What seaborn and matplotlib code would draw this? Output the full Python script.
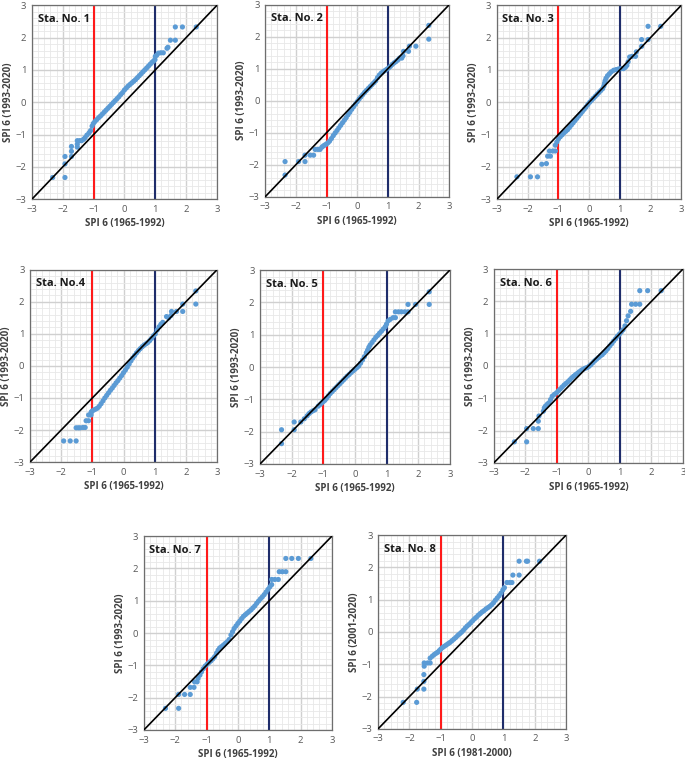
import numpy as np
import pandas as pd
import seaborn as sns
import matplotlib.pyplot as plt
from matplotlib.ticker import MultipleLocator

# ---- data (SPI 6 quantile pairs) ----
sta1_x = [-2.33, -1.93, -1.93, -1.93, -1.72, -1.72, -1.72, -1.53, -1.53, -1.53, -1.45, -1.39, -1.33, -1.28,
          -1.22, -1.15, -1.10,
          -1.05, -1.01, -0.96, -0.90, -0.84, -0.78, -0.72, -0.66, -0.60, -0.54, -0.48, -0.42, -0.36, -0.30,
          -0.24, -0.18, -0.12, -0.06, 0.00, 0.06, 0.12, 0.18, 0.24, 0.30, 0.36, 0.42, 0.48, 0.54, 0.60, 0.66,
          0.72, 0.78, 0.84, 0.90, 0.95, 0.99,
          1.00, 1.05, 1.10, 1.18, 1.26, 1.38, 1.41, 1.49, 1.65, 1.65, 1.88, 2.33]
sta1_y = [-2.33, -2.33, -1.91, -1.68, -1.68, -1.52, -1.37, -1.39, -1.30, -1.19, -1.19, -1.19, -1.15, -1.10,
          -1.02, -0.95, -0.88,
          -0.74, -0.66, -0.60, -0.54, -0.48, -0.43, -0.37, -0.31, -0.25, -0.19, -0.13, -0.07, -0.01, 0.05,
          0.11, 0.17, 0.24, 0.30, 0.38, 0.44, 0.50, 0.55, 0.60, 0.65, 0.70, 0.76, 0.82, 0.88, 0.94, 1.00,
          1.06, 1.12, 1.18, 1.24, 1.28, 1.32,
          1.42, 1.46, 1.52, 1.53, 1.53, 1.67, 1.70, 1.92, 1.92, 2.33, 2.33, 2.33]

sta2_x = [-2.35, -2.35, -1.91, -1.70, -1.70, -1.53, -1.42, -1.37, -1.28, -1.21, -1.15,
          -1.10, -1.05, -1.00, -0.95, -0.90, -0.84, -0.78, -0.72, -0.66, -0.60, -0.54, -0.48, -0.42, -0.36,
          -0.30, -0.24, -0.18, -0.12, -0.06, 0.00, 0.06, 0.12, 0.18, 0.24, 0.30, 0.36, 0.42, 0.48, 0.54,
          0.60, 0.66, 0.72, 0.78, 0.84, 0.90, 0.96, 1.02, 1.08, 1.14, 1.20, 1.26, 1.32, 1.38,
          1.45, 1.49, 1.51, 1.67, 1.70, 1.91, 2.33, 2.33]
sta2_y = [-2.32, -1.90, -1.90, -1.70, -1.90, -1.70, -1.70, -1.52, -1.52, -1.52, -1.45,
          -1.41, -1.38, -1.35, -1.31, -1.26, -1.18, -1.09, -1.01, -0.93, -0.85, -0.77, -0.69, -0.61, -0.53,
          -0.44, -0.36, -0.27, -0.19, -0.11, -0.03, 0.05, 0.12, 0.19, 0.26, 0.32, 0.38, 0.44, 0.50, 0.56,
          0.62, 0.72, 0.80, 0.86, 0.90, 0.94, 0.98, 1.02, 1.07, 1.13, 1.18, 1.22, 1.27, 1.33,
          1.33, 1.40, 1.54, 1.54, 1.70, 1.70, 1.92, 2.35]

sta3_x = [-2.35, -1.91, -1.68, -1.54, -1.39, -1.35, -1.26, -1.29, -1.18, -1.10,
          -1.10, -1.05, -1.00, -0.94, -0.88, -0.82, -0.76, -0.70, -0.64, -0.58, -0.52, -0.46, -0.40, -0.34,
          -0.28, -0.22, -0.16, -0.10, -0.04, 0.02, 0.08, 0.14, 0.20, 0.26, 0.32, 0.38, 0.44, 0.48, 0.50,
          0.52, 0.55, 0.60, 0.66, 0.72, 0.80, 0.88, 0.96, 1.04, 1.12, 1.18, 1.23, 1.27,
          1.32, 1.40, 1.51, 1.54, 1.71, 1.71, 1.92, 1.92, 2.33]
sta3_y = [-2.31, -2.31, -2.31, -1.92, -1.90, -1.67, -1.67, -1.51, -1.51, -1.51,
          -1.33, -1.23, -1.14, -1.07, -1.01, -0.95, -0.90, -0.85, -0.78, -0.71, -0.64, -0.57, -0.50, -0.43,
          -0.36, -0.29, -0.22, -0.15, -0.07, 0.00, 0.06, 0.12, 0.18, 0.24, 0.30, 0.36, 0.42, 0.50, 0.58,
          0.66, 0.74, 0.82, 0.88, 0.94, 0.99, 1.01, 1.03, 1.04, 1.04, 1.08, 1.14, 1.25,
          1.40, 1.42, 1.42, 1.56, 1.73, 1.94, 1.94, 2.35, 2.35]

sta4_x = [-1.92, -1.71, -1.52, -1.52, -1.45, -1.39, -1.30, -1.23, -1.20, -1.12, -1.12, -1.04, -1.04,
          -1.02, -0.96, -0.90, -0.84, -0.78, -0.72, -0.66, -0.60, -0.54, -0.48, -0.42, -0.36, -0.30, -0.24,
          -0.18, -0.12, -0.06, 0.00, 0.06, 0.12, 0.18, 0.24, 0.30, 0.36, 0.42, 0.48, 0.54, 0.60, 0.66,
          0.72, 0.78, 0.84, 0.90, 0.96, 1.02, 1.08, 1.14, 1.20, 1.26,
          1.38, 1.45, 1.52, 1.54, 1.70, 1.90, 1.90, 2.32, 2.32]
sta4_y = [-2.34, -2.34, -2.34, -1.93, -1.93, -1.93, -1.92, -1.92, -1.71, -1.71, -1.53, -1.53, -1.45,
          -1.42, -1.38, -1.35, -1.32, -1.26, -1.18, -1.09, -1.00, -0.92, -0.84, -0.76, -0.69, -0.61, -0.53,
          -0.46, -0.38, -0.30, -0.21, -0.13, -0.04, 0.06, 0.16, 0.25, 0.33, 0.41, 0.48, 0.54, 0.60, 0.65,
          0.69, 0.73, 0.79, 0.86, 0.94, 1.00, 1.12, 1.22, 1.30, 1.36,
          1.54, 1.50, 1.57, 1.70, 1.70, 1.70, 1.93, 1.93, 2.34]

sta5_x = [-2.32, -2.32, -1.92, -1.92, -1.71, -1.60, -1.51, -1.45, -1.39, -1.32, -1.26,
          -1.16, -1.10, -1.05, -1.00, -0.95, -0.90, -0.84, -0.78, -0.72, -0.66, -0.60, -0.54, -0.48, -0.42,
          -0.36, -0.30, -0.24, -0.18, -0.12, -0.06, 0.00, 0.06, 0.12, 0.18, 0.24, 0.30, 0.36, 0.40, 0.44,
          0.48, 0.54, 0.60, 0.66, 0.72, 0.78, 0.84, 0.90, 0.96, 1.00, 1.05,
          1.12, 1.21, 1.28, 1.28, 1.38, 1.47, 1.58, 1.68, 1.68, 1.92, 2.35, 2.35]
sta5_y = [-2.37, -1.94, -1.94, -1.70, -1.70, -1.60, -1.51, -1.44, -1.39, -1.35, -1.32,
          -1.21, -1.16, -1.11, -1.07, -1.03, -0.97, -0.90, -0.82, -0.76, -0.70, -0.64, -0.58, -0.52, -0.46,
          -0.40, -0.34, -0.28, -0.23, -0.17, -0.12, -0.07, -0.02, 0.03, 0.12, 0.22, 0.32, 0.44, 0.52, 0.61,
          0.68, 0.76, 0.84, 0.92, 0.98, 1.05, 1.11, 1.18, 1.25, 1.33, 1.43,
          1.48, 1.53, 1.53, 1.71, 1.71, 1.71, 1.71, 1.71, 1.94, 1.94, 1.94, 2.33]

sta6_x = [-2.35, -1.96, -1.96, -1.75, -1.59, -1.59, -1.57, -1.43, -1.40, -1.36, -1.30,
          -1.25, -1.20, -1.15, -1.08, -1.01, -0.95, -0.89, -0.83, -0.77, -0.71, -0.65, -0.59, -0.53, -0.47,
          -0.41, -0.35, -0.29, -0.22, -0.16, -0.10, -0.04, 0.02, 0.08, 0.14, 0.20, 0.26, 0.32, 0.38, 0.44,
          0.50, 0.56, 0.62, 0.68, 0.74, 0.80, 0.86, 0.92, 0.98, 1.04, 1.10,
          1.16, 1.21, 1.26, 1.34, 1.37, 1.50, 1.63, 1.63, 1.88, 2.31]
sta6_y = [-2.35, -2.35, -1.94, -1.94, -1.94, -1.71, -1.55, -1.40, -1.30, -1.24, -1.18,
          -1.14, -1.04, -0.94, -0.88, -0.83, -0.77, -0.71, -0.65, -0.59, -0.54, -0.49, -0.43, -0.37, -0.32,
          -0.27, -0.23, -0.18, -0.13, -0.10, -0.07, -0.05, -0.01, 0.04, 0.10, 0.16, 0.21, 0.26, 0.31, 0.35,
          0.41, 0.47, 0.54, 0.62, 0.69, 0.77, 0.84, 0.92, 0.98, 1.05, 1.12,
          1.24, 1.40, 1.55, 1.69, 1.91, 1.91, 1.91, 2.33, 2.33, 2.33]

sta7_x = [-2.31, -1.89, -1.89, -1.70, -1.52, -1.52, -1.40, -1.38, -1.30, -1.27, -1.21,
          -1.16, -1.10, -1.04, -0.98, -0.92, -0.86, -0.80, -0.74, -0.68, -0.63, -0.58, -0.52, -0.46, -0.40,
          -0.34, -0.28, -0.22, -0.17, -0.12, -0.06, 0.00, 0.06, 0.12, 0.18, 0.24, 0.30, 0.36, 0.42, 0.48,
          0.54, 0.60, 0.66, 0.72, 0.78, 0.84, 0.90, 0.96, 1.02,
          1.08, 1.08, 1.18, 1.29, 1.32, 1.42, 1.53, 1.53, 1.72, 1.93, 2.33]
sta7_y = [-2.33, -2.33, -1.90, -1.90, -1.90, -1.68, -1.68, -1.51, -1.51, -1.40, -1.30,
          -1.20, -1.10, -1.02, -0.96, -0.91, -0.86, -0.80, -0.73, -0.62, -0.53, -0.46, -0.42, -0.37, -0.32,
          -0.27, -0.20, -0.06, 0.04, 0.14, 0.22, 0.30, 0.37, 0.45, 0.52, 0.57, 0.62, 0.67, 0.72, 0.78,
          0.84, 0.92, 0.99, 1.06, 1.12, 1.19, 1.27, 1.35, 1.43,
          1.50, 1.66, 1.66, 1.66, 1.90, 1.90, 1.90, 2.31, 2.31, 2.31, 2.31]

sta8_x = [-2.20, -1.77, -1.75, -1.54, -1.54, -1.54, -1.53, -1.53, -1.42, -1.34, -1.34, -1.27,
          -1.21, -1.15, -1.10, -1.05, -1.00, -0.94, -0.88, -0.82, -0.76, -0.70, -0.64, -0.58, -0.52, -0.46,
          -0.40, -0.34, -0.28, -0.22, -0.16, -0.10, -0.04, 0.02, 0.08, 0.14, 0.20, 0.26, 0.32, 0.38, 0.44,
          0.50, 0.56, 0.62, 0.68, 0.74, 0.80, 0.86, 0.92, 0.98, 1.03,
          1.11, 1.20, 1.27, 1.30, 1.50, 1.50, 1.73, 1.77, 2.15]
sta8_y = [-2.18, -2.18, -1.77, -1.77, -1.53, -1.32, -1.06, -0.96, -0.96, -0.96, -0.81, -0.75,
          -0.70, -0.66, -0.63, -0.58, -0.53, -0.48, -0.44, -0.40, -0.36, -0.32, -0.27, -0.22, -0.17, -0.11,
          -0.06, -0.01, 0.05, 0.12, 0.18, 0.23, 0.29, 0.35, 0.41, 0.46, 0.52, 0.57, 0.62, 0.66, 0.71,
          0.75, 0.79, 0.84, 0.90, 0.98, 1.05, 1.12, 1.20, 1.30, 1.37,
          1.53, 1.53, 1.53, 1.76, 1.76, 2.19, 2.19, 2.19, 2.19]

titles = ["Sta. No. 1", "Sta. No. 2", "Sta. No. 3", "Sta. No.4",
          "Sta. No. 5", "Sta. No. 6", "Sta. No. 7", "Sta. No. 8"]
xlabels = ["SPI 6 (1965-1992)"] * 7 + ["SPI 6 (1981-2000)"]
ylabels = ["SPI 6 (1993-2020)"] * 7 + ["SPI 6 (2001-2020)"]
stations = [(sta1_x, sta1_y), (sta2_x, sta2_y), (sta3_x, sta3_y), (sta4_x, sta4_y),
            (sta5_x, sta5_y), (sta6_x, sta6_y), (sta7_x, sta7_y), (sta8_x, sta8_y)]

# axes boxes in figure fractions [left, bottom, width, height]
boxes = [[0.0467, 0.738, 0.270, 0.255], [0.387, 0.741, 0.269, 0.253], [0.7255, 0.738, 0.269, 0.255],
         [0.0438, 0.392, 0.273, 0.253], [0.3796, 0.3895, 0.277, 0.255], [0.721, 0.391, 0.276, 0.255],
         [0.210, 0.0395, 0.2745, 0.255], [0.552, 0.041, 0.2745, 0.255]]

sns.set_style("white")
plt.rcParams['font.family'] = ['Open Sans', 'DejaVu Sans']

fig = plt.figure(figsize=(6.85, 7.6), dpi=100)

for i, (xs, ys) in enumerate(stations):
    ax = fig.add_axes(boxes[i])
    df = pd.DataFrame({'obs1': xs, 'obs2': ys})

    # grid
    ax.xaxis.set_major_locator(MultipleLocator(1))
    ax.yaxis.set_major_locator(MultipleLocator(1))
    ax.xaxis.set_minor_locator(MultipleLocator(0.2))
    ax.yaxis.set_minor_locator(MultipleLocator(0.2))
    ax.grid(which='minor', color='#e8e8e8', linewidth=0.6)
    ax.grid(which='major', color='#d0d0d0', linewidth=1.0)
    ax.set_axisbelow(True)

    sns.scatterplot(data=df, x='obs1', y='obs2', ax=ax, color='#5b9bd5', s=14,
                    edgecolor='none', zorder=3)
    ax.plot([-3, 3], [-3, 3], color='black', linewidth=1.2, zorder=4)
    ax.axvline(-1, color='#ff1a1a', linewidth=1.5, zorder=2)
    ax.axvline(1, color='#1f2d6b', linewidth=1.5, zorder=2)

    ax.set_xlim(-3, 3)
    ax.set_ylim(-3, 3)
    ax.tick_params(which='both', length=0, labelsize=6.8, labelcolor='#595959', pad=4)
    for sp in ax.spines.values():
        sp.set_color('#6e6e6e')
        sp.set_linewidth(0.9)

    ax.set_xlabel(xlabels[i], fontsize=7, fontweight='bold', color='#404040', labelpad=3)
    ax.set_ylabel(ylabels[i], fontsize=7, fontweight='bold', color='#404040', labelpad=1)
    ax.text(0.03, 0.955, titles[i], transform=ax.transAxes, fontsize=8, fontweight='bold',
            color='#1a1a1a', va='top', ha='left', zorder=5)

plt.savefig('out.png', dpi=100)
